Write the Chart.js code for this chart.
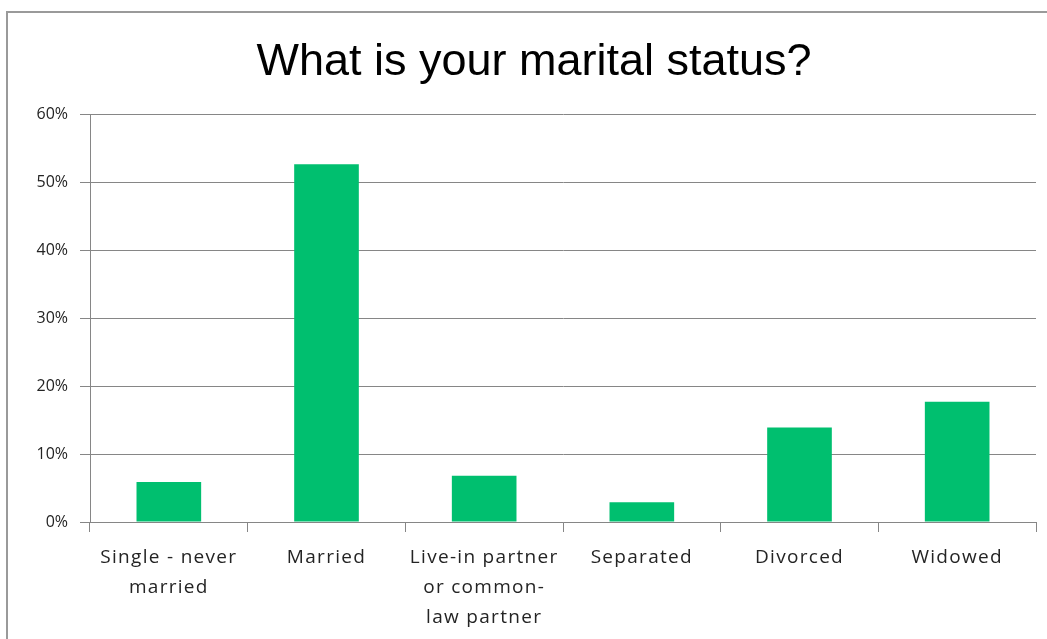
<!DOCTYPE html>
<html>
<head>
<meta charset="utf-8">
<script src="https://cdn.jsdelivr.net/npm/chart.js@4/dist/chart.umd.min.js"></script>
<style>
  html, body { margin: 0; padding: 0; background: #fff; }
  #frame {
    position: absolute; left: 6px; top: 11px; width: 1047px; height: 640px;
    border-left: 2px solid #9a9a9a; border-top: 2px solid #9a9a9a;
  }
  #wrap { position: absolute; left: 0; top: 0; width: 1047px; height: 639px; }
</style>
</head>
<body>
<div id="frame"></div>
<div id="wrap"><canvas id="chart"></canvas></div>
<script>
const categories = [
  ["Single - never", "married"],
  "Married",
  ["Live-in partner", "or common-", "law partner"],
  "Separated",
  "Divorced",
  "Widowed"
];
const shares = [5.9, 52.6, 6.8, 2.9, 13.9, 17.7];
const yTicks = [0, 10, 20, 30, 40, 50, 60];

const barGreen = "#00bf6f";
const gridGray = "#868686";
const labelColor = "#242424";

const ctx = document.getElementById("chart").getContext("2d");
const chart = new Chart(ctx, {
  type: "bar",
  data: {
    labels: categories,
    datasets: [{
      data: shares,
      backgroundColor: barGreen,
      borderWidth: 0,
      barPercentage: 0.41,
      categoryPercentage: 1
    }]
  },
  options: {
    responsive: true,
    maintainAspectRatio: false,
    animation: false,
    layout: { padding: { left: 32, right: 11, top: 0, bottom: 0 } },
    plugins: {
      legend: { display: false },
      tooltip: { enabled: false },
      title: {
        display: true,
        text: "What is your marital status?",
        color: "#000",
        font: { family: "'Liberation Sans', Arial, sans-serif", size: 45, weight: "normal", lineHeight: 1.2 },
        padding: { top: 36, bottom: 24 }
      }
    },
    scales: {
      x: {
        offset: true,
        grid: {
          offset: true,
          drawOnChartArea: false,
          drawTicks: true,
          tickLength: 10,
          color: gridGray
        },
        border: { color: gridGray, width: 1 },
        ticks: {
          color: labelColor,
          font: { family: "'Open Sans', sans-serif", size: 19, lineHeight: 1.58 },
          padding: 11,
          maxRotation: 0,
          autoSkip: false
        },
        afterFit: (scale) => { scale.height = 117; }
      },
      y: {
        min: 0,
        max: 60,
        afterBuildTicks: (scale) => { scale.ticks = yTicks.map(v => ({ value: v })); },
        grid: {
          color: gridGray,
          tickLength: 10,
          drawTicks: true
        },
        border: { color: gridGray, width: 1 },
        ticks: {
          color: labelColor,
          font: { family: "'Open Sans', sans-serif", size: 16 },
          padding: 12,
          callback: (v) => v + "%"
        },
        afterFit: (scale) => { scale.width = 58; }
      }
    }
  }
});

// the category labels in the original are spaced out a bit
const xScale = chart.scales.x;
const drawLabels = xScale.drawLabels;
xScale.drawLabels = function (area) {
  const c = this.ctx;
  c.save();
  c.letterSpacing = "1.3px";
  drawLabels.call(this, area);
  c.restore();
};
chart.draw();
</script>
</body>
</html>
